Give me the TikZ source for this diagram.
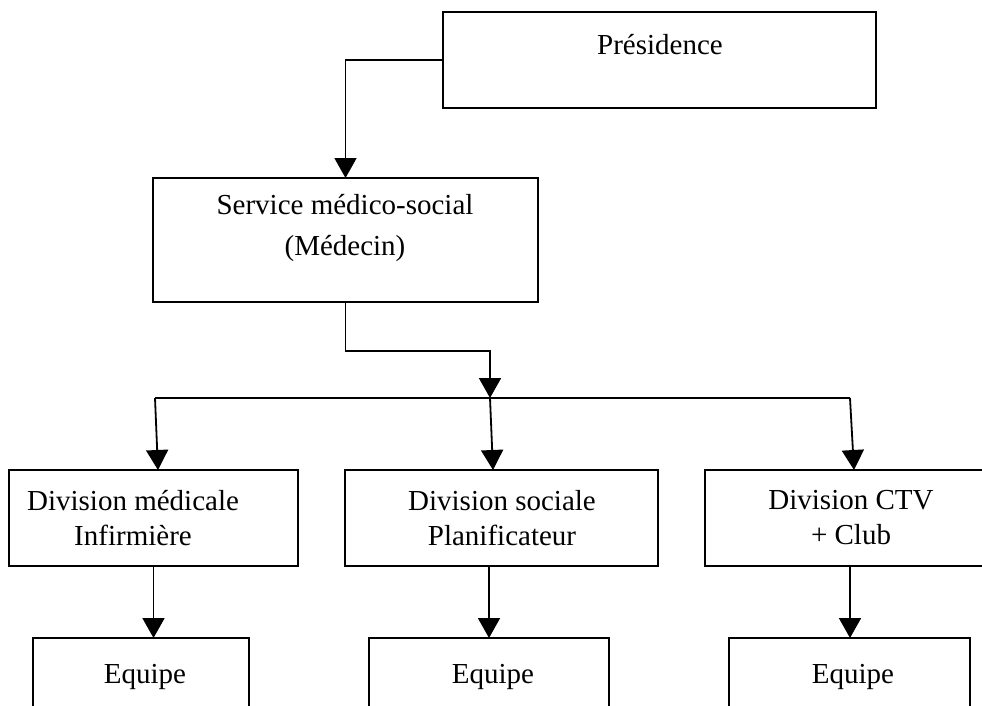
\documentclass[tikz,border=0pt]{standalone}
\usepackage{fontspec}
\setmainfont{Liberation Serif}
\usetikzlibrary{arrows.meta}

\begin{document}
\begin{tikzpicture}[x=1pt,y=-1pt,
  box/.style={draw,rectangle,line width=1.8pt,inner sep=0pt,outer sep=0pt,minimum height=96pt},
  txt/.style={inner sep=0pt,align=center,font=\fontsize{29}{35}\selectfont},
  arr/.style={line width=1.8pt,-{Triangle[length=20pt,width=22pt]}}]
\useasboundingbox (0,0) rectangle (982,706);
\clip (0,0) rectangle (982,706);
% boxes
\draw (659.5,60) node[box,minimum width=433pt](pres) {};
\draw (345.5,240) node[box,minimum width=385pt,minimum height=124pt](svc) {};
\draw (153.5,518) node[box,minimum width=289pt](divMed) {};
\draw (501.5,518) node[box,minimum width=313pt](divSoc) {};
\draw (850,518) node[box,minimum width=290pt](divCtv) {};
\draw (141,686) node[box,minimum width=216pt](eqMed) {};
\draw (489,686) node[box,minimum width=240pt](eqSoc) {};
\draw (849.5,686) node[box,minimum width=241pt](eqCtv) {};
% texts
\draw (660,55) node[txt,anchor=base](presT) {Présidence};
\draw (345,228) node[txt](svcT) {Service médico-social\\[6pt](Médecin)};
\draw (133,518) node[txt](divMedT) {Division médicale\\Infirmière};
\draw (502,518) node[txt](divSocT) {Division sociale\\Planificateur};
\draw (851,518) node[txt](divCtvT) {Division CTV\\+ Club};
\draw (145,683) node[txt,anchor=base](eqMedT) {Equipe};
\draw (493,683) node[txt,anchor=base](eqSocT) {Equipe};
\draw (853,683) node[txt,anchor=base](eqCtvT) {Equipe};
% bus
\coordinate (busL) at (155,398);
\coordinate (busM) at (490,398);
\coordinate (busR) at (850,398);
\draw[line width=1.8pt] (busL) -- (busR);
% connectors
\draw[arr] (pres.west) -| (svc.north);
\draw[arr] (svc.south) -- ++(0,49) -| (busM);
\draw[arr] (busL) -- ([xshift=4.5pt]divMed.north);
\draw[arr] (busM) -- ([xshift=-8.5pt]divSoc.north);
\draw[arr] (busR) -- ([xshift=4pt]divCtv.north);
\draw[arr] (divMed.south) -- (divMed.south |- eqMed.north);
\draw[arr] (eqSoc.north |- divSoc.south) -- (eqSoc.north);
\draw[arr] (divCtv.south) -- (divCtv.south |- eqCtv.north);
\end{tikzpicture}
\end{document}
